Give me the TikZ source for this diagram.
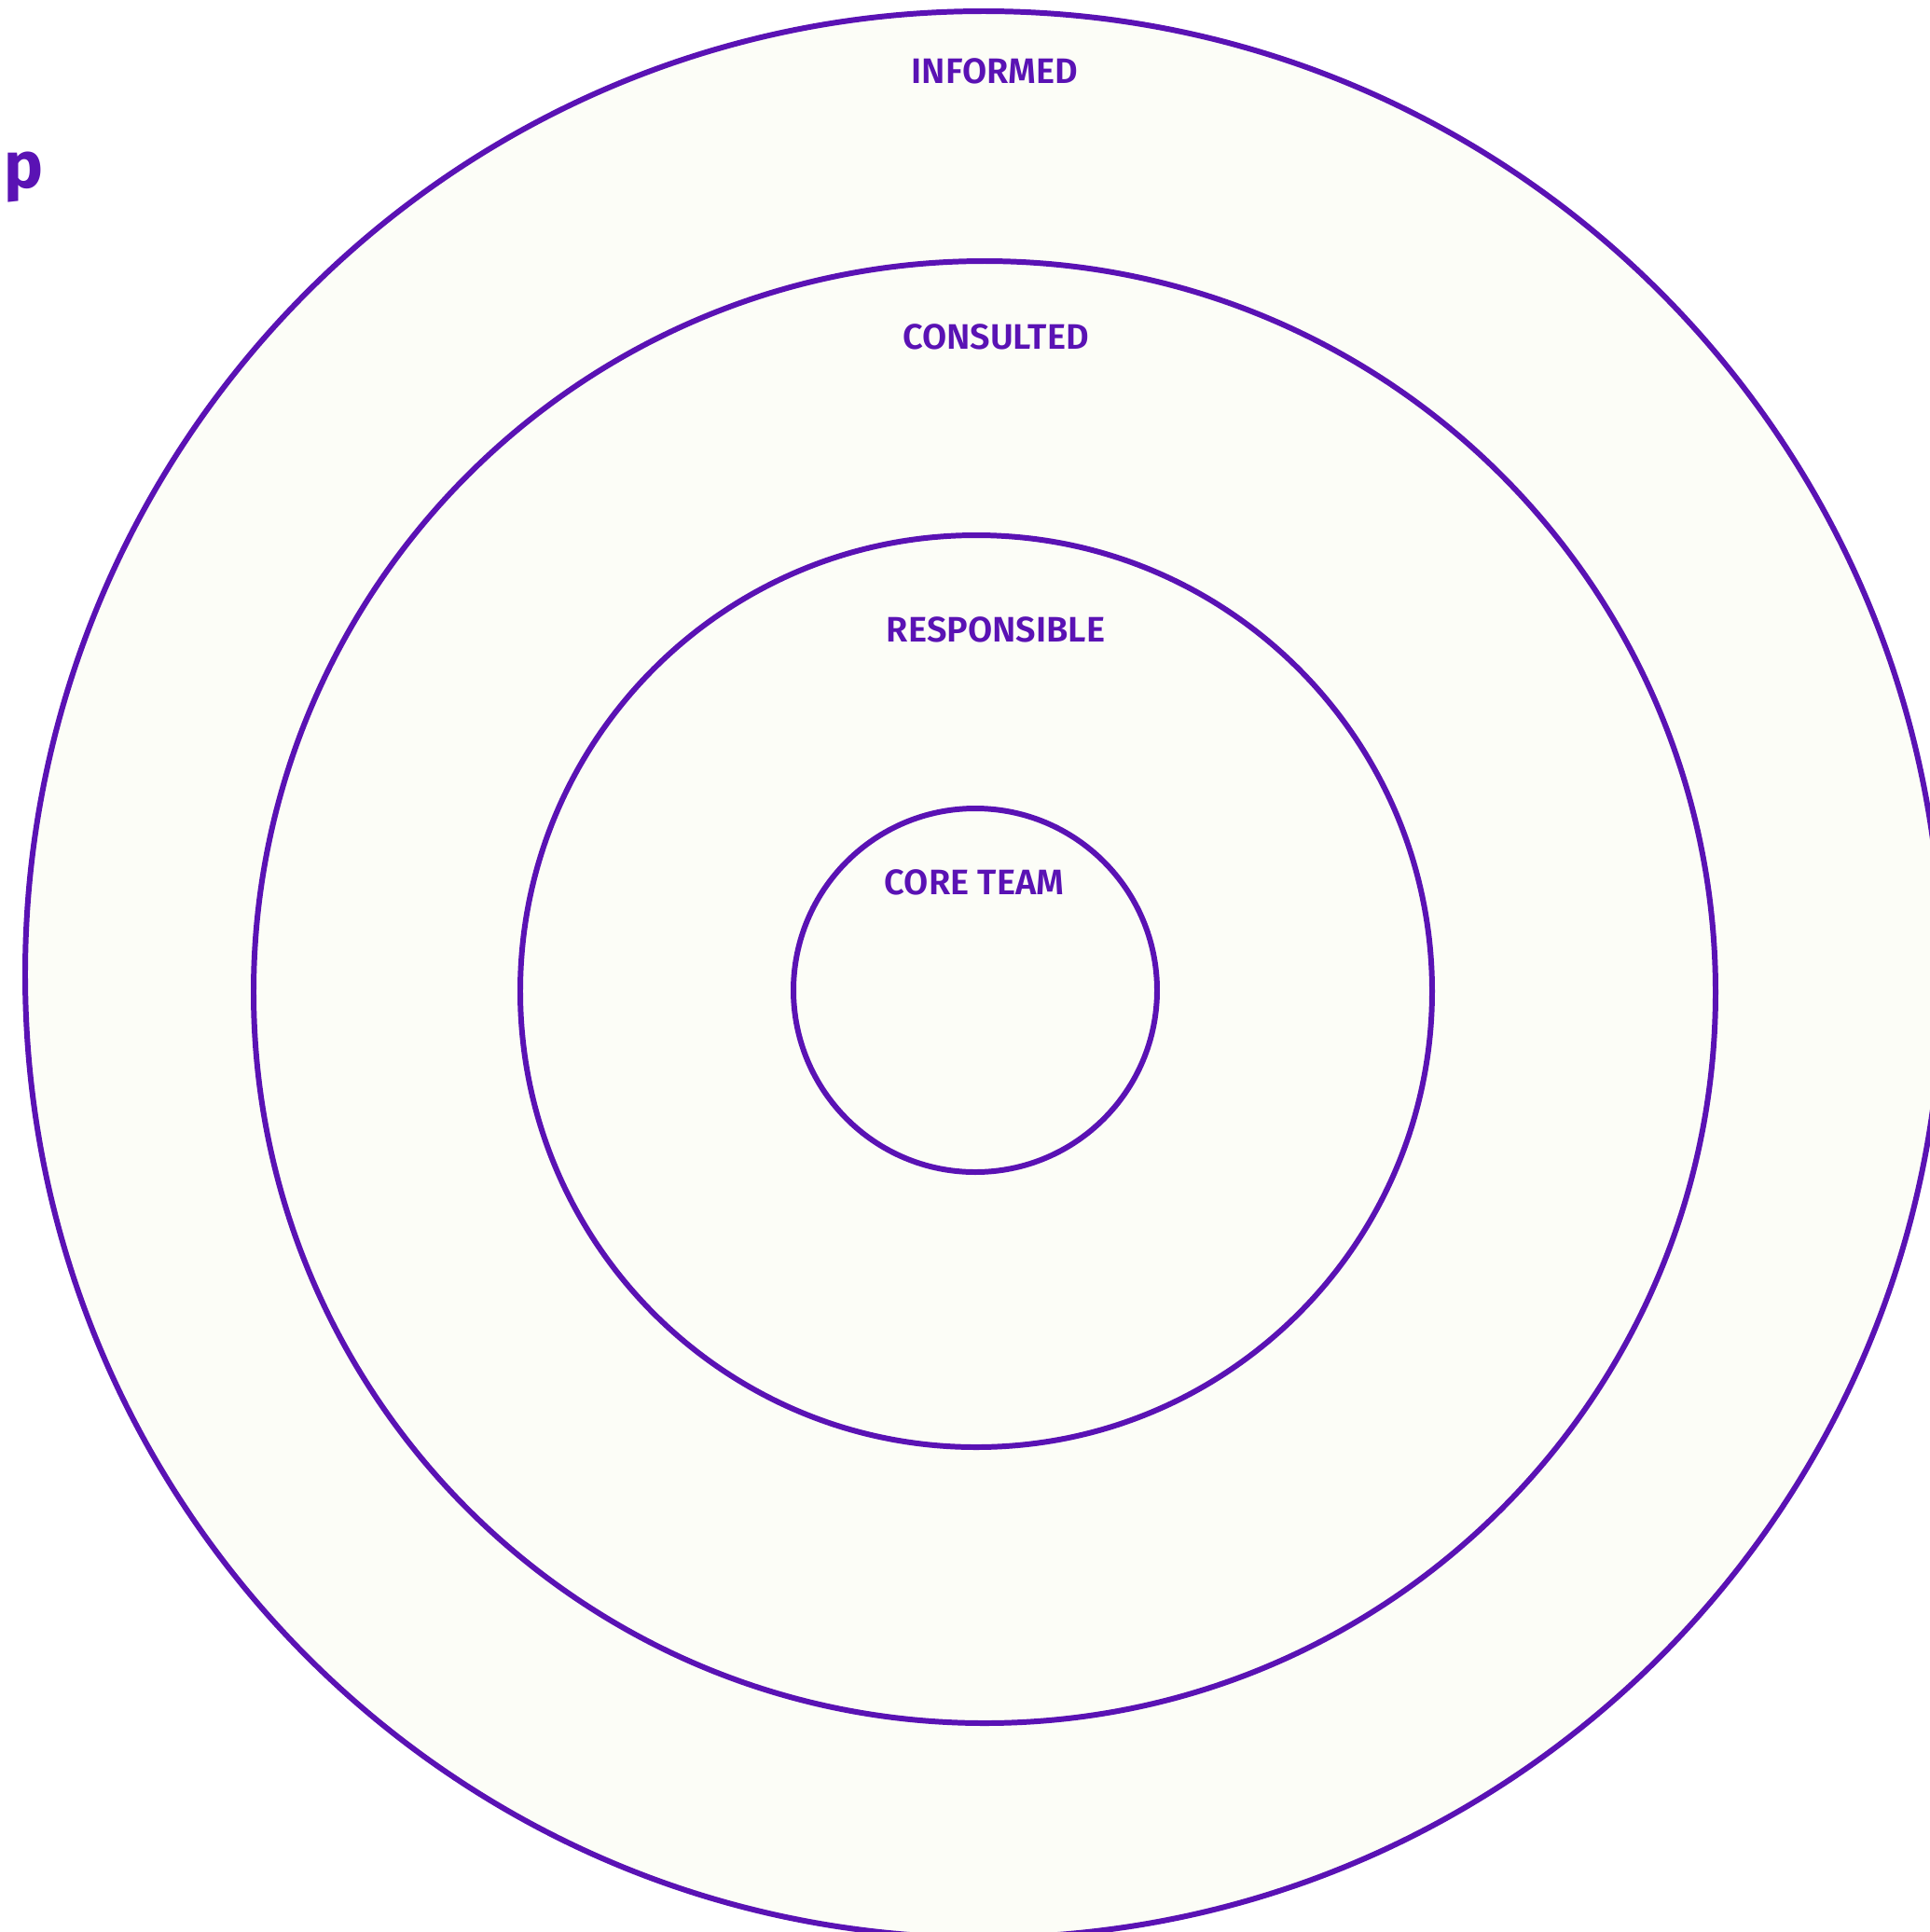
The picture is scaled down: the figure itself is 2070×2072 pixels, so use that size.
\documentclass[tikz,border=0pt]{standalone}
\usepackage{fontspec}
\setmainfont{Fira Sans}
\newfontfamily\labelfont{Fira Sans SemiBold}
\definecolor{ringline}{HTML}{5A12B4}
\definecolor{ringfill}{HTML}{FCFDF7}
\tikzset{
  ring/.style={draw=ringline, fill=ringfill, line width=1.7pt},
  level/.style={font=\labelfont\fontsize{10.8}{12}\selectfont, text=ringline, inner sep=0pt},
  title/.style={font=\bfseries\fontsize{20}{24}\selectfont, text=ringline, inner sep=0pt}
}

\begin{document}
\begin{tikzpicture}[x=0.01cm, y=-0.01cm]

% Page frame
\useasboundingbox (0,0) rectangle (2070,2072);
\fill[white] (0,0) rectangle (2070,2072);

\begin{scope}
\clip (0,0) rectangle (2070,2072);

% --- Rings, outermost first ---
\draw[ring] (1055,1045) ellipse [x radius=1028, y radius=1033];
\draw[ring] (1056,1064) circle [radius=784];
\draw[ring] (1047,1063) circle [radius=489];
\draw[ring] (1046,1062) circle [radius=195];

% --- Ring labels ---
\node[level] (informed)    at (1067,76)  {INFORMED};
\node[level] (consulted)   at (1068,361) {CONSULTED};
\node[level] (responsible) at (1068,675) {RESPONSIBLE};
\node[level] (coreteam)    at (1045,946) {CORE TEAM};

% Clipped title at the left edge
\node[title, anchor=base west] (title) at (4,201) {p};
\end{scope}

\end{tikzpicture}
\end{document}
